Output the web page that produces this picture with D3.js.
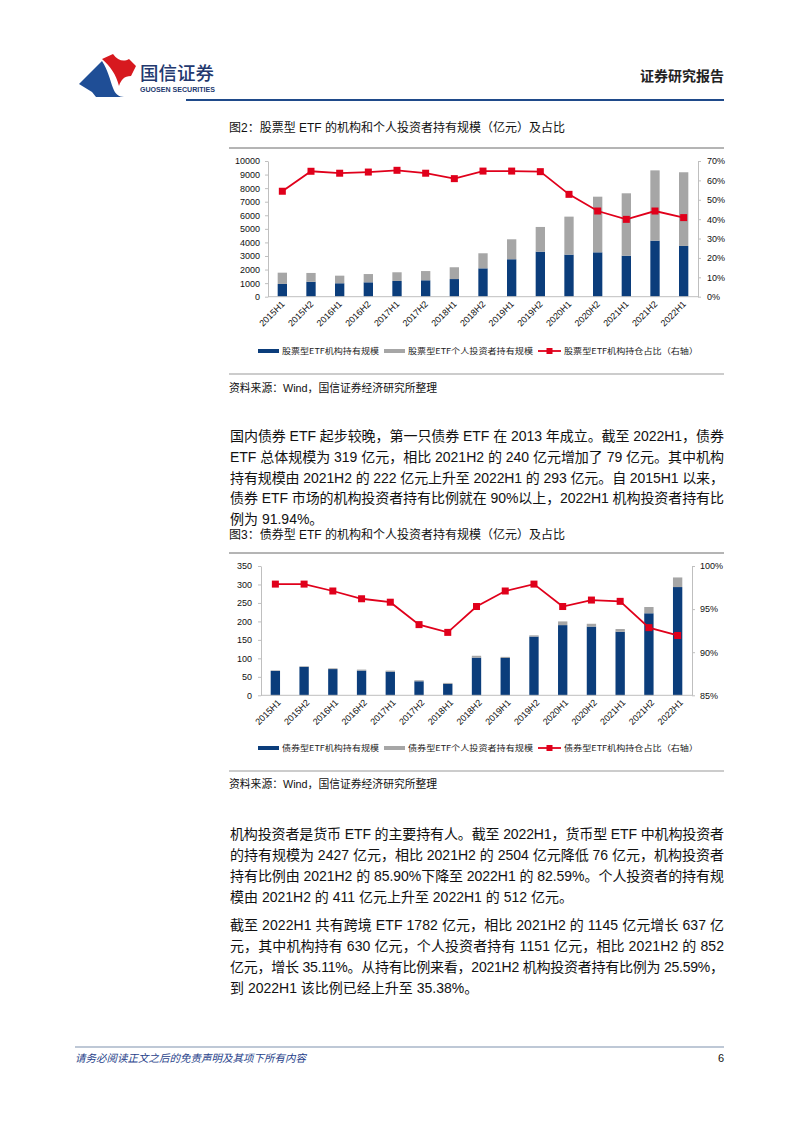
<!DOCTYPE html>
<html><head><meta charset="utf-8">
<script src="https://cdn.jsdelivr.net/npm/d3@7/dist/d3.min.js"></script>
<style>body{margin:0;background:#fff}svg{display:block}</style>
</head><body>
<svg id="page" width="802" height="1133"></svg>
<script>
// ---------- DATA ----------
const categories = ["2015H1","2015H2","2016H1","2016H2","2017H1","2017H2","2018H1","2018H2","2019H1","2019H2","2020H1","2020H2","2021H1","2021H2","2022H1"];

const stockInst     = [940,1100,990,1060,1160,1210,1300,2090,2760,3320,3100,3270,3020,4130,3740];
const stockPersonal = [830,650,560,610,640,680,870,1110,1470,1820,2800,4100,4600,5180,5430];
const stockRatio    = [54.4,64.7,63.7,64.3,65.2,63.7,60.9,64.8,64.8,64.5,52.8,44.2,39.9,44.2,40.8];
const stockLeftTicks  = [0,1000,2000,3000,4000,5000,6000,7000,8000,9000,10000];
const stockRightTicks = [0,10,20,30,40,50,60,70];

const bondInst     = [66,77,71,67,64,38,31,102,101,159,190,186,172,222,293];
const bondPersonal = [1.4,1.6,2.1,2.6,2.8,2.8,2.5,5,3,3.3,10,7.6,7.4,17,26];
const bondRatio    = [97.9,97.9,97.1,96.2,95.8,93.2,92.3,95.3,97.1,97.9,95.3,96.05,95.9,92.85,91.94];
const bondLeftTicks  = [0,50,100,150,200,250,300,350];
const bondRightTicks = [85,90,95,100];

const stockLegend = ["股票型ETF机构持有规模","股票型ETF个人投资者持有规模","股票型ETF机构持仓占比（右轴）"];
const bondLegend  = ["债券型ETF机构持有规模","债券型ETF个人投资者持有规模","债券型ETF机构持仓占比（右轴）"];

const title1 = "图2：股票型 ETF 的机构和个人投资者持有规模（亿元）及占比";
const title2 = "图3：债券型 ETF 的机构和个人投资者持有规模（亿元）及占比";
const sourceText = "资料来源：Wind，国信证券经济研究所整理";

const para1 = [
 "国内债券 ETF 起步较晚，第一只债券 ETF 在 2013 年成立。截至 2022H1，债券",
 "ETF 总体规模为 319 亿元，相比 2021H2 的 240 亿元增加了 79 亿元。其中机构",
 "持有规模由 2021H2 的 222 亿元上升至 2022H1 的 293 亿元。自 2015H1 以来，",
 "债券 ETF 市场的机构投资者持有比例就在 90%以上，2022H1 机构投资者持有比",
 "例为 91.94%。"];
const para2 = [
 "机构投资者是货币 ETF 的主要持有人。截至 2022H1，货币型 ETF 中机构投资者",
 "的持有规模为 2427 亿元，相比 2021H2 的 2504 亿元降低 76 亿元，机构投资者",
 "持有比例由 2021H2 的 85.90%下降至 2022H1 的 82.59%。个人投资者的持有规",
 "模由 2021H2 的 411 亿元上升至 2022H1 的 512 亿元。"];
const para3 = [
 "截至 2022H1 共有跨境 ETF 1782 亿元，相比 2021H2 的 1145 亿元增长 637 亿",
 "元，其中机构持有 630 亿元，个人投资者持有 1151 亿元，相比 2021H2 的 852",
 "亿元，增长 35.11%。从持有比例来看，2021H2 机构投资者持有比例为 25.59%，",
 "到 2022H1 该比例已经上升至 35.38%。"];

// ---------- STYLE ----------
const FONT = "'Liberation Sans', Arial, 'Noto Sans CJK SC', sans-serif";
const C_INST = "#0b3d7b", C_PERS = "#a6a6a6", C_RED = "#e0001b", C_AXIS = "#bfbfbf";

const svg = d3.select("#page").style("font-family", FONT);

// ---------- HEADER ----------
const hdr = svg.append("g");
hdr.append("path").attr("d","M79,84 L102,61 C108,70 110,80 113,88 C115,94 119,97 124,97 L96,97 L92,92 Z").attr("fill","#1f4e96");
hdr.append("path").attr("d","M102,59 L113,54 C118,61 124,62 129,59 L136,66 L131,76 C124,76 121,80 119,86 C116,74 110,66 102,59 Z").attr("fill","#d7191f");
hdr.append("text").attr("x",140).attr("y",80).attr("font-size",18.5).attr("fill","#23396f")
  .attr("font-family","'Noto Sans CJK SC', sans-serif").attr("font-weight",500).text("国信证券");
hdr.append("text").attr("x",140).attr("y",92).attr("font-size",6.6).attr("fill","#23396f")
  .attr("font-weight","bold").attr("textLength",75).attr("lengthAdjust","spacingAndGlyphs").text("GUOSEN SECURITIES");
hdr.append("text").attr("x",724).attr("y",81).attr("text-anchor","end").attr("font-size",14)
  .attr("font-weight","bold").attr("fill","#222").attr("font-family","'Noto Sans CJK SC', sans-serif").text("证券研究报告");
hdr.append("line").attr("x1",186).attr("x2",724).attr("y1",100).attr("y2",100).attr("stroke","#1f4a8a").attr("stroke-width",2);

// ---------- TEXT HELPERS ----------
function title(t, y, lineY){
  svg.append("text").attr("x",229).attr("y",y).attr("font-size",12).attr("fill","#111").text(t);
  svg.append("line").attr("x1",229).attr("x2",724).attr("y1",lineY).attr("y2",lineY).attr("stroke","#6b6b6b").attr("stroke-width",1);
}
function source(lineY, y){
  svg.append("line").attr("x1",229).attr("x2",724).attr("y1",lineY).attr("y2",lineY).attr("stroke","#9a9a9a").attr("stroke-width",1.2);
  svg.append("text").attr("x",229).attr("y",y).attr("font-size",10.8).attr("fill","#111").text(sourceText);
}
function paragraph(lines, y0, lh){
  lines.forEach((l,i)=>{
    const t = svg.append("text").attr("x",230).attr("y",y0+i*lh).attr("font-size",14).attr("fill","#111").text(l);
    if(i < lines.length-1) t.attr("textLength",494).attr("lengthAdjust","spacing");
  });
}

// ---------- CHART ----------
function chart(cfg){
  const g = svg.append("g");
  const x = d3.scaleBand().domain(categories).range([cfg.x0,cfg.x1]).paddingInner(0.675).paddingOuter(0.3375);
  const yL = d3.scaleLinear().domain(cfg.leftDomain).range([cfg.yB,cfg.yT]);
  const yR = d3.scaleLinear().domain(cfg.rightDomain).range([cfg.yB,cfg.yT]);

  // bars
  g.selectAll(".bi").data(categories).join("rect")
    .attr("x",d=>x(d)).attr("width",x.bandwidth())
    .attr("y",(d,i)=>yL(cfg.inst[i])).attr("height",(d,i)=>yL(0)-yL(cfg.inst[i])).attr("fill",C_INST);
  g.selectAll(".bp").data(categories).join("rect")
    .attr("x",d=>x(d)).attr("width",x.bandwidth())
    .attr("y",(d,i)=>yL(cfg.inst[i]+cfg.pers[i])).attr("height",(d,i)=>yL(cfg.inst[i])-yL(cfg.inst[i]+cfg.pers[i])).attr("fill",C_PERS);

  // axes
  const aL = g.append("g").attr("transform",`translate(${cfg.x0},0)`)
    .call(d3.axisLeft(yL).tickValues(cfg.leftTicks).tickSize(3).tickSizeOuter(0).tickPadding(cfg.padL).tickFormat(d3.format("d")));
  const aR = g.append("g").attr("transform",`translate(${cfg.x1},0)`)
    .call(d3.axisRight(yR).tickValues(cfg.rightTicks).tickSize(3).tickSizeOuter(0).tickPadding(cfg.padR).tickFormat(d=>d+"%"));
  [aL,aR].forEach(a=>{
    a.selectAll("path,line").attr("stroke",C_AXIS);
    a.selectAll("text").attr("font-size",9).attr("fill","#111").attr("font-family",FONT);
  });
  g.append("line").attr("x1",cfg.x0).attr("x2",cfg.x1).attr("y1",cfg.yB).attr("y2",cfg.yB).attr("stroke",C_AXIS);

  // x labels
  g.selectAll(".xl").data(categories).join("text")
    .attr("transform",d=>`translate(${x(d)+x.bandwidth()/2+cfg.labDx},${cfg.yB+cfg.labDy}) rotate(-45)`)
    .attr("text-anchor","end").attr("font-size",9).attr("fill","#111").text(d=>d);

  // line
  const line = d3.line().x((d,i)=>x(categories[i])+x.bandwidth()/2).y(d=>yR(d));
  g.append("path").datum(cfg.ratio).attr("d",line).attr("fill","none").attr("stroke",C_RED).attr("stroke-width",1.8);
  g.selectAll(".mk").data(cfg.ratio).join("rect")
    .attr("x",(d,i)=>x(categories[i])+x.bandwidth()/2-3.5).attr("y",d=>yR(d)-3.5)
    .attr("width",7).attr("height",7).attr("fill",C_RED);

  // legend
  const ly = cfg.legendY;
  const lg = g.append("g").attr("font-family","'Noto Sans CJK SC', sans-serif");
  lg.append("rect").attr("x",258).attr("y",ly-2).attr("width",21).attr("height",4).attr("fill",C_INST);
  lg.append("text").attr("x",282).attr("y",ly+3).attr("font-size",8).attr("fill","#222")
    .attr("textLength",97).attr("lengthAdjust","spacingAndGlyphs").text(cfg.legend[0]);
  lg.append("rect").attr("x",384).attr("y",ly-2).attr("width",21).attr("height",4).attr("fill",C_PERS);
  lg.append("text").attr("x",408).attr("y",ly+3).attr("font-size",8).attr("fill","#222")
    .attr("textLength",125).attr("lengthAdjust","spacingAndGlyphs").text(cfg.legend[1]);
  lg.append("line").attr("x1",538).attr("x2",561).attr("y1",ly).attr("y2",ly).attr("stroke",C_RED).attr("stroke-width",1.8);
  lg.append("rect").attr("x",546.5).attr("y",ly-3).attr("width",6).attr("height",6).attr("fill",C_RED);
  lg.append("text").attr("x",564).attr("y",ly+3).attr("font-size",8).attr("fill","#222")
    .attr("textLength",134).attr("lengthAdjust","spacingAndGlyphs").text(cfg.legend[2]);
}

// ---------- PAGE ----------
title(title1, 132, 148);
chart({x0:268,x1:698,yT:161,yB:296.7,leftDomain:[0,10000],rightDomain:[0,70],
  leftTicks:stockLeftTicks,rightTicks:stockRightTicks,padL:5,padR:6,
  inst:stockInst,pers:stockPersonal,ratio:stockRatio,labDx:3,labDy:8,legendY:351,legend:stockLegend});
source(374, 392);

paragraph(para1, 441, 20.75);

title(title2, 539, 553);
chart({x0:261,x1:692,yT:566,yB:695.3,leftDomain:[0,350],rightDomain:[85,100],
  leftTicks:bondLeftTicks,rightTicks:bondRightTicks,padL:6,padR:5,
  inst:bondInst,pers:bondPersonal,ratio:bondRatio,labDx:6,labDy:8,legendY:748,legend:bondLegend});
source(771, 788);

paragraph(para2, 839, 21);
paragraph(para3, 930, 21);

// ---------- FOOTER ----------
svg.append("line").attr("x1",75).attr("x2",724).attr("y1",1047).attr("y2",1047).attr("stroke","#a9b6c8").attr("stroke-width",1.5);
svg.append("text").attr("x",75).attr("y",1062).attr("font-size",10.5).attr("font-style","italic").attr("fill","#1f3f8a")
  .attr("font-family","'Noto Sans CJK SC', sans-serif").text("请务必阅读正文之后的免责声明及其项下所有内容");
svg.append("text").attr("x",724).attr("y",1062).attr("text-anchor","end").attr("font-size",11).attr("fill","#111").text("6");
</script>
</body></html>
